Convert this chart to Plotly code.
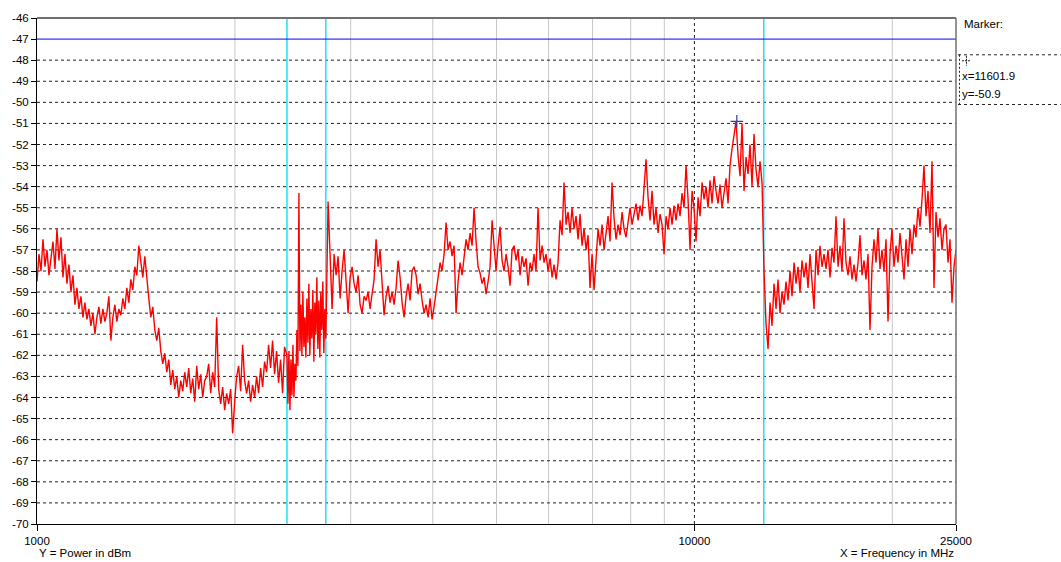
import numpy as np
import plotly.graph_objects as go

# ---------------- data ----------------
# sweep segment 1: 1000 .. 2380 MHz
seg_a_range = (1000, 2380)
seg_a_vals = [
    -58.5, -57.2, -58.0, -56.5, -57.8,
    -57.0, -58.2, -57.3, -56.6, -57.9,
    -56.0, -57.5, -56.4, -58.3, -57.2,
    -58.6, -57.7, -59.0, -58.2, -59.6,
    -58.8, -59.8, -59.2, -60.2, -59.5,
    -60.3, -59.8, -60.6, -60.0, -61.0,
    -60.2, -59.7, -60.5, -59.8, -60.4,
    -60.0, -59.2, -61.3, -60.2, -59.6,
    -60.4, -59.8, -60.1, -59.3, -59.8,
    -58.8, -59.5, -58.4, -58.9, -57.8,
    -58.2, -56.8, -57.5, -58.3, -57.3,
    -58.5, -59.3, -60.2, -59.7, -60.8,
    -61.3, -60.7, -61.8, -62.4, -61.9,
    -62.8, -62.2, -63.4, -62.7, -63.6,
    -63.0, -64.0, -63.2, -63.7, -62.8,
    -63.5, -62.6, -63.8, -63.1, -64.2,
    -62.5, -63.6, -62.9, -64.0, -63.2,
    -63.0, -62.4, -63.8, -62.8, -63.5,
    -60.2, -63.6, -64.3, -63.5, -64.6,
    -63.8, -64.3, -63.6, -65.7, -64.2,
    -63.0, -62.5, -63.7, -61.5, -63.2,
    -63.8, -63.2, -64.2, -63.4, -64.0,
    -63.0, -63.8, -62.6, -63.5, -62.3,
    -62.8, -61.5, -62.6, -61.3, -62.9,
    -61.8, -63.3, -62.2, -63.8, -61.6,
]

# sweep segment 2 (dense): 2400 .. 2750 MHz
seg_b_range = (2400, 2750)
seg_b_vals = [
    -62.0, -64.3, -61.8, -64.6, -62.2, -63.9, -61.5, -64.0, -62.4, -63.2,
    -60.8, -62.5, -54.3, -61.8, -59.6, -62.0, -59.0, -61.6, -60.2, -62.1,
    -59.3, -61.4, -58.6, -62.0, -59.8, -61.2, -58.9, -62.3, -59.5, -61.0,
    -58.3, -61.7, -59.4, -62.1, -59.0, -60.8, -58.5, -61.9, -59.8, -61.2,
]

# sweep segment 3: 2772 .. 25000 MHz
seg_c_range = (2772, 25000)
seg_c_vals = [
    -54.7, -57.6, -59.8, -57.2,
    -58.2, -57.3, -59.3, -58.0, -57.0,
    -58.5, -60.0, -58.3, -57.8, -58.6,
    -59.0, -58.2, -59.6, -60.0, -59.2,
    -59.4, -59.0, -59.8, -59.2, -58.4,
    -56.5, -57.8, -57.0, -58.6, -60.1,
    -59.2, -58.7, -59.5, -59.0, -59.6,
    -58.8, -57.5, -58.3, -59.5, -60.2,
    -59.2, -58.6, -59.4, -58.0, -57.8,
    -58.2, -59.1, -58.6, -59.4, -60.0,
    -59.6, -60.2, -59.3, -60.3, -59.7,
    -59.0, -58.4, -57.6, -58.0, -57.2,
    -55.7, -57.0, -56.6, -57.3, -56.8,
    -60.0, -58.5, -57.6, -58.2, -57.2,
    -56.5, -57.0, -56.2, -56.8, -55.0,
    -56.6, -57.8, -58.1, -58.6, -58.3,
    -59.1, -58.5, -57.8, -55.6, -57.0,
    -58.0, -56.8, -55.9, -57.5, -58.0,
    -57.2, -57.8, -58.7, -57.0, -56.8,
    -57.5, -57.0, -58.2, -57.3, -57.8,
    -57.4, -58.7, -57.6, -58.0, -57.2,
    -58.0, -55.0, -57.5, -56.8, -57.6,
    -57.2, -58.0, -57.4, -58.3, -57.7,
    -58.4, -57.6, -55.6, -56.3, -53.8,
    -55.8, -55.2, -56.2, -55.0, -56.0,
    -55.4, -56.5, -55.3, -56.8, -56.0,
    -57.0, -56.3, -58.8, -57.2, -58.9,
    -57.5, -56.0, -56.8, -55.8, -57.0,
    -56.2, -55.4, -56.6, -53.8, -55.5,
    -56.5, -55.8, -56.3, -55.2, -56.0,
    -56.4, -55.6, -55.0, -55.8, -55.2,
    -54.8, -55.6, -54.9, -55.4, -53.8,
    -52.7, -54.5, -55.6, -54.2, -55.8,
    -55.0, -56.2, -55.3, -55.8, -57.2,
    -55.4, -56.0, -55.0, -55.8, -54.9,
    -55.6, -54.8, -55.4, -54.3, -55.0,
    -53.0, -54.6, -57.0, -54.2, -55.0,
    -56.6, -54.5, -55.4, -53.8, -54.6,
    -54.0, -55.0, -53.7, -54.8, -53.5,
    -54.2, -54.8, -53.9, -55.0, -54.3,
    -53.6, -54.8, -53.0, -52.2, -51.5,
    -50.9, -52.5, -53.5, -51.0, -54.2,
    -52.6, -53.4, -52.0, -54.0, -51.5,
    -53.2, -54.0, -52.8, -53.8, -58.0,
    -60.5, -61.7, -59.5, -60.6, -58.6,
    -59.8, -58.4, -60.0, -59.0, -59.6,
    -58.5, -59.4, -58.0, -59.2, -57.6,
    -58.6, -57.8, -59.0, -57.5, -58.3,
    -57.6, -58.8, -57.2, -58.4, -59.8,
    -57.0, -58.2, -56.8, -57.8, -57.2,
    -57.9, -57.0, -58.3, -56.9, -57.6,
    -55.4, -57.8, -56.8, -58.0, -55.5,
    -57.6, -58.2, -57.3, -58.4, -57.7,
    -58.5, -57.6, -56.3, -58.2, -57.5,
    -58.4, -57.2, -60.8, -57.8, -56.5,
    -57.6, -56.0, -57.9, -57.0, -58.0,
    -56.5, -60.4, -57.2, -56.0, -57.8,
    -56.8, -57.6, -56.2, -57.4, -58.4,
    -56.5, -57.8, -56.0, -57.2, -55.8,
    -56.4, -55.0, -55.9, -54.6, -53.0,
    -55.4, -54.2, -56.2, -52.8, -58.8,
    -55.2, -56.4, -55.5, -57.0, -56.0,
    -55.8, -57.6, -56.5, -59.5, -57.8,
    -57.0,
]

marker_x = 11601.9
marker_y = -50.9
ref_level = -47
cyan_lines = [2400, 2750, 12750]
gray_lines = [2000, 3000, 4000, 5000, 6000, 7000, 8000, 9000, 20000]
dashed_v_line = 10000
x_tick_vals = [1000, 10000, 25000]
x_tick_text = ["1000", "10000", "25000"]
y_tick_vals = list(range(-70, -45))
y_tick_text = [str(v) for v in y_tick_vals]

# ---------------- build ----------------
segments = [(seg_a_range, seg_a_vals), (seg_b_range, seg_b_vals), (seg_c_range, seg_c_vals)]
xs, ys = [], []
for (f0, f1), vals in segments:
    xs.extend(np.geomspace(f0, f1, len(vals)).tolist())
    ys.extend(vals)

W, H = 1061, 562
L, R, T, B = 34, 956, 15, 524
XMIN, XMAX = 1000, 25000


def px(xp):
    return (xp - L) / (R - L)


def py(yp):
    return (B - yp) / (B - T)


FONT = "Liberation Sans, Arial, sans-serif"

fig = go.Figure()
fig.add_trace(go.Scatter(x=xs, y=ys, mode="lines",
                         line=dict(color="#ff0000", width=1.4),
                         hoverinfo="skip", showlegend=False))
fig.add_trace(go.Scatter(x=[marker_x], y=[marker_y], mode="markers",
                         marker=dict(symbol="cross-thin", size=9,
                                     line=dict(color="#3838a8", width=1.2)),
                         showlegend=False))

shapes = []
# gray vertical grid lines
for f in gray_lines:
    shapes.append(dict(type="line", xref="x", yref="paper", x0=f, x1=f, y0=0, y1=1,
                       line=dict(color="#c8c8c8", width=1), layer="below"))
# dashed horizontal grid lines
for v in range(-69, -47):
    shapes.append(dict(type="line", xref="paper", yref="y", x0=0, x1=1, y0=v, y1=v,
                       line=dict(color="#202020", width=1, dash="3px,3px"), layer="below"))
# dashed vertical at 10000
shapes.append(dict(type="line", xref="x", yref="paper", x0=dashed_v_line, x1=dashed_v_line,
                   y0=0, y1=1, line=dict(color="#202020", width=1, dash="3px,3px"), layer="below"))
# cyan lines
for f in cyan_lines:
    shapes.append(dict(type="line", xref="x", yref="paper", x0=f, x1=f, y0=0, y1=1,
                       line=dict(color="#20e0f0", width=1.5), layer="below"))
# reference level line
shapes.append(dict(type="line", xref="paper", yref="y", x0=0, x1=1, y0=ref_level, y1=ref_level,
                   line=dict(color="#0000ff", width=1), layer="above"))
# top and right borders (gray)
shapes.append(dict(type="line", xref="paper", yref="paper", x0=0, x1=1, y0=1, y1=1,
                   line=dict(color="#707070", width=2), layer="above"))
shapes.append(dict(type="line", xref="paper", yref="paper", x0=1, x1=1, y0=0, y1=1,
                   line=dict(color="#707070", width=1.5), layer="above"))
# marker info box (dashed)
shapes.append(dict(type="line", xref="paper", yref="paper", x0=px(958), x1=px(1061),
                   y0=py(52), y1=py(52), line=dict(color="#202020", width=1, dash="3px,3px")))
shapes.append(dict(type="line", xref="paper", yref="paper", x0=px(958), x1=px(1061),
                   y0=py(102), y1=py(102), line=dict(color="#202020", width=1, dash="3px,3px")))
shapes.append(dict(type="line", xref="paper", yref="paper", x0=px(959.5), x1=px(959.5),
                   y0=py(52), y1=py(102), line=dict(color="#202020", width=1, dash="2px,2px")))
# small crosshair icon
shapes.append(dict(type="line", xref="paper", yref="paper", x0=px(962), x1=px(971),
                   y0=py(58), y1=py(58), line=dict(color="#202020", width=1, dash="2px,1px")))
shapes.append(dict(type="line", xref="paper", yref="paper", x0=px(966.5), x1=px(966.5),
                   y0=py(53), y1=py(63), line=dict(color="#202020", width=1, dash="2px,1px")))

annotations = [
    dict(text="Marker:", x=px(962), y=py(21), xref="paper", yref="paper",
         xanchor="left", yanchor="middle", showarrow=False),
    dict(text=f"x={marker_x}", x=px(960), y=py(73), xref="paper", yref="paper",
         xanchor="left", yanchor="middle", showarrow=False),
    dict(text=f"y={marker_y}", x=px(960), y=py(91), xref="paper", yref="paper",
         xanchor="left", yanchor="middle", showarrow=False),
    dict(text="Y = Power in dBm", x=px(34), y=py(553), xref="paper", yref="paper",
         xanchor="left", yanchor="middle", showarrow=False),
    dict(text="X = Frequency in MHz", x=px(956), y=py(553), xref="paper", yref="paper",
         xanchor="right", yanchor="middle", showarrow=False),
]

fig.update_layout(
    width=W, height=H,
    margin=dict(l=L, r=W - R, t=T, b=H - B, pad=0),
    paper_bgcolor="white", plot_bgcolor="white",
    font=dict(family=FONT, size=11.5, color="black"),
    shapes=shapes, annotations=annotations,
    showlegend=False,
    xaxis=dict(type="log", range=[np.log10(XMIN), np.log10(XMAX)],
               tickvals=x_tick_vals, ticktext=x_tick_text,
               ticks="outside", ticklen=6, tickcolor="black",
               showgrid=False, zeroline=False,
               showline=True, linecolor="black", linewidth=1),
    yaxis=dict(range=[-70, -46], tickvals=y_tick_vals, ticktext=y_tick_text,
               ticks="outside", ticklen=5, tickcolor="black",
               showgrid=False, zeroline=False,
               showline=True, linecolor="black", linewidth=1),
)

fig.write_html("out.html")
